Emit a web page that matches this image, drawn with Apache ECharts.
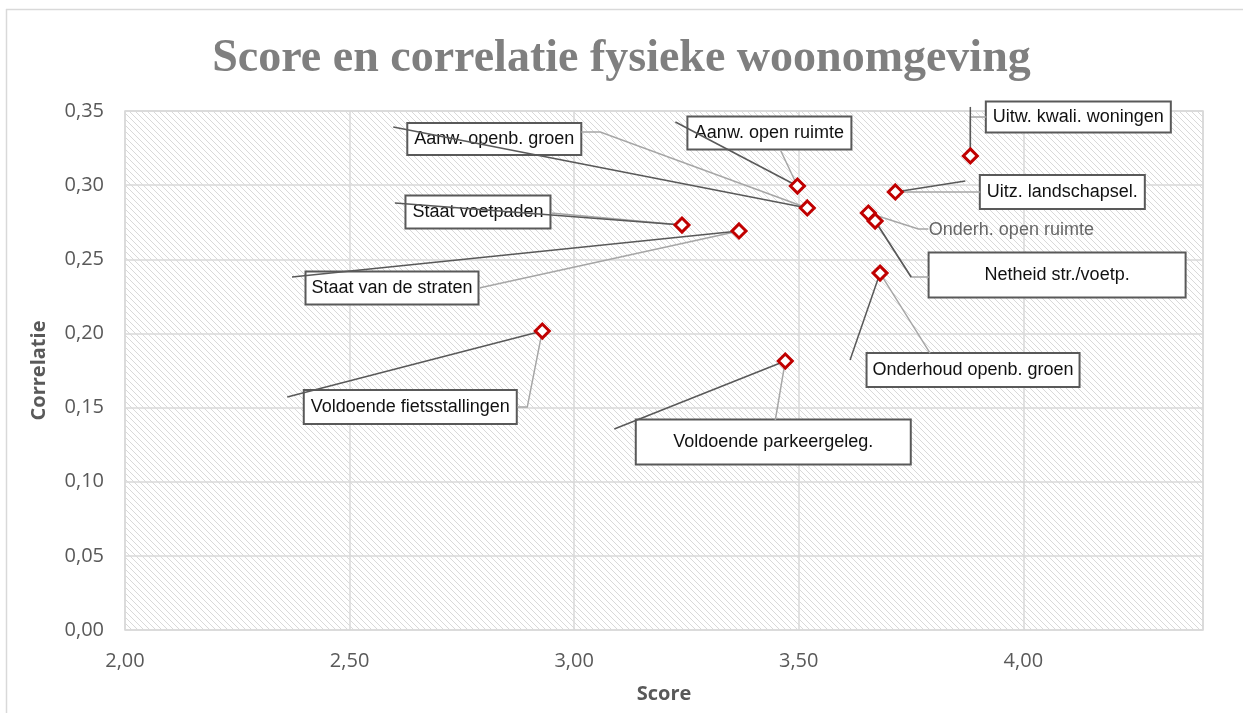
<!DOCTYPE html>
<html>
<head>
<meta charset="utf-8">
<script src="https://cdn.jsdelivr.net/npm/echarts@6/dist/echarts.min.js"></script>
<style>
html,body{margin:0;padding:0;background:#fff;}
#main{width:1243px;height:713px;}
</style>
</head>
<body>
<div id="main"></div>
<script>
// data
var names = ['Aanw. openb. groen', 'Aanw. open ruimte', 'Uitw. kwali. woningen', 'Uitz. landschapsel.',
    'Onderh. open ruimte', 'Netheid str./voetp.', 'Staat voetpaden', 'Staat van de straten',
    'Voldoende fietsstallingen', 'Voldoende parkeergeleg.', 'Onderhoud openb. groen'];
var scores = [3.519, 3.497, 3.882, 3.715, 3.655, 3.670, 3.240, 3.367, 2.929, 3.470, 3.681];
var correlations = [0.2846, 0.2994, 0.3197, 0.2954, 0.2812, 0.2758, 0.2731, 0.2691, 0.2016, 0.1814, 0.2407];

// label boxes and leader lines, pixel offsets from the point
var labelBox = [[-313, -69], [-28, -53], [108, -39], [167, 0], [143, 17], [182, 54],
    [-204, -13], [-347, 57], [-132, 76], [-12, 81], [93, 97]];
var boxSize = [[174, 32], [164, 33], [185, 31], [165, 34], null, [257, 45],
    [145, 33], [173, 33], [213, 34], [275, 45], [213, 34]];
var darkEnd = [[-414, -81], [-122, -64], [0, -49], [70, -11], null, [36, 56],
    [-287, -22], [-447, 46], [-255, 66], [-171, 68], [-30, 87]];
var lightPath = [[[-207, -76], [-226, -76]], [[-17, -36]], [[0, -39], [16, -39]], [[85, 0]],
    [[50, 16], [60, 16]], [[36, 56], [54, 56]], [[-131, -12]], [[-260, 57]],
    [[-15, 76], [-25, 76]], [[-10, 59]], [[50, 80]]];

var points = [];
for (var i = 0; i < names.length; i++) {
    points.push([scores[i], correlations[i]]);
}

// diagonal hatch for the plot area
var hatch = document.createElement('canvas');
hatch.width = 6;
hatch.height = 6;
var hctx = hatch.getContext('2d');
hctx.fillStyle = '#fff';
hctx.fillRect(0, 0, 6, 6);
hctx.fillStyle = '#d9d9d9';
for (var k = 0; k < 6; k++) {
    hctx.fillRect(k, k, 1, 1);
}

function fmt(v) {
    return v.toFixed(2).replace('.', ',');
}

function renderLabel(params, api) {
    var i = params.dataIndex;
    var p = api.coord([api.value(0), api.value(1)]);
    var cx = p[0] + labelBox[i][0], cy = p[1] + labelBox[i][1];
    var children = [];
    if (boxSize[i]) {
        var w = boxSize[i][0], h = boxSize[i][1];
        children.push({
            type: 'rect',
            shape: {x: cx - w / 2, y: cy - h / 2, width: w, height: h},
            style: {fill: '#fff', stroke: '#595959', lineWidth: 2}
        });
    }
    children.push({
        type: 'text',
        style: {
            text: names[i], x: cx, y: cy, align: 'center', verticalAlign: 'middle',
            font: '18px "Liberation Sans"', fill: boxSize[i] ? '#111' : '#666'
        }
    });
    var lp = [p];
    lightPath[i].forEach(function (o) { lp.push([p[0] + o[0], p[1] + o[1]]); });
    children.push({
        type: 'polyline',
        shape: {points: lp},
        style: {fill: null, stroke: '#a6a6a6', lineWidth: 1.5}
    });
    if (darkEnd[i]) {
        children.push({
            type: 'line',
            shape: {x1: p[0], y1: p[1], x2: p[0] + darkEnd[i][0], y2: p[1] + darkEnd[i][1]},
            style: {stroke: '#595959', lineWidth: 1.5}
        });
    }
    return {type: 'group', children: children};
}

var chart = echarts.init(document.getElementById('main'));
var option = {
    backgroundColor: '#fff',
    animation: false,
    title: {
        text: 'Score en correlatie fysieke woonomgeving',
        left: 'center',
        top: 31,
        textStyle: {
            fontFamily: '"Liberation Serif"',
            fontWeight: 'bold',
            fontSize: 46,
            color: '#7f7f7f'
        }
    },
    graphic: [
        {type: 'line', shape: {x1: 6, y1: 9.5, x2: 1243, y2: 9.5}, style: {stroke: '#d9d9d9', lineWidth: 1.5}},
        {type: 'line', shape: {x1: 6.5, y1: 9, x2: 6.5, y2: 713}, style: {stroke: '#d9d9d9', lineWidth: 1.5}}
    ],
    grid: {
        left: 125,
        right: 40,
        top: 111,
        bottom: 83,
        show: true,
        backgroundColor: {image: hatch, repeat: 'repeat'},
        borderColor: '#d9d9d9',
        borderWidth: 1.5
    },
    xAxis: {
        type: 'value',
        min: 2,
        max: 4.4,
        interval: 0.5,
        name: 'Score',
        nameLocation: 'middle',
        nameGap: 54,
        nameTextStyle: {fontFamily: '"Open Sans"', fontWeight: 'bold', fontSize: 20, color: '#595959'},
        axisLine: {show: false},
        axisTick: {show: false},
        axisLabel: {
            margin: 21, fontFamily: '"Open Sans"', fontSize: 20, color: '#595959',
            formatter: fmt, showMaxLabel: false
        },
        splitLine: {lineStyle: {color: '#d9d9d9', width: 1.5}}
    },
    yAxis: {
        type: 'value',
        min: 0,
        max: 0.35,
        interval: 0.05,
        name: 'Correlatie',
        nameLocation: 'middle',
        nameGap: 76,
        nameTextStyle: {fontFamily: '"Open Sans"', fontWeight: 'bold', fontSize: 20, color: '#595959'},
        axisLine: {show: false},
        axisTick: {show: false},
        axisLabel: {margin: 21, fontFamily: '"Open Sans"', fontSize: 20, color: '#595959', formatter: fmt},
        splitLine: {lineStyle: {color: '#d9d9d9', width: 1.5}}
    },
    series: [
        {
            type: 'custom',
            renderItem: renderLabel,
            data: points,
            z: 3,
            silent: true
        },
        {
            type: 'scatter',
            data: points,
            symbol: 'diamond',
            symbolSize: 14,
            itemStyle: {color: '#fff', borderColor: '#c00000', borderWidth: 3, opacity: 1},
            z: 5
        }
    ]
};
chart.setOption(option);
</script>
</body>
</html>
